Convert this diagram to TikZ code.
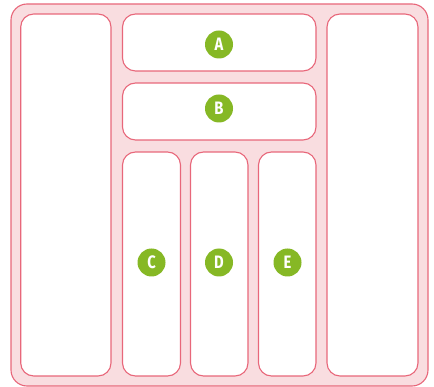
\documentclass[tikz,border=0pt]{standalone}
\usepackage{fontspec}
\setmainfont{Fira Sans}
\usepackage{tikz}
\usetikzlibrary{positioning}

\definecolor{trayfill}{HTML}{F9DDE0}
\definecolor{trayline}{HTML}{E8677A}
\definecolor{markgreen}{HTML}{86B825}

\tikzset{
  tray/.style={fill=trayfill,draw=trayline,line width=1.1pt,rounded corners=16pt},
  slot/.style={fill=white,draw=trayline,line width=1.1pt,rounded corners=13pt},
  slotlabel/.style={circle,fill=markgreen,minimum size=28pt,inner sep=0pt,
    text=white,font=\fontsize{18}{18}\selectfont\bfseries}
}
\newcommand{\slotmark}[1]{\scalebox{0.82}[1]{#1}}

\begin{document}
\begin{tikzpicture}[x=1pt,y=-1pt]
  \useasboundingbox (0,0) rectangle (434,387);
  % outer tray
  \draw[tray] (11,4) rectangle (428,386);
  % side slots
  \draw[slot] (20.7,14) rectangle (111,376);
  \draw[slot] (327,14) rectangle (418,376);
  % middle slots
  \draw[slot] (122.5,14) rectangle (316,71);
  \draw[slot] (122.5,83) rectangle (316,140);
  \draw[slot] (122.5,152) rectangle (180.5,376);
  \draw[slot] (190.5,152) rectangle (248,376);
  \draw[slot] (258.5,152) rectangle (316,376);
  % labels
  \node[slotlabel] (a) at (219,44.5) {\slotmark{A}};
  \node[slotlabel] (b) at (219,108.5) {\slotmark{B}};
  \node[slotlabel] (c) at (151.5,262.5) {\slotmark{C}};
  \node[slotlabel] (d) at (219,262.5) {\slotmark{D}};
  \node[slotlabel] (e) at (287.5,262.5) {\slotmark{E}};
\end{tikzpicture}
\end{document}
